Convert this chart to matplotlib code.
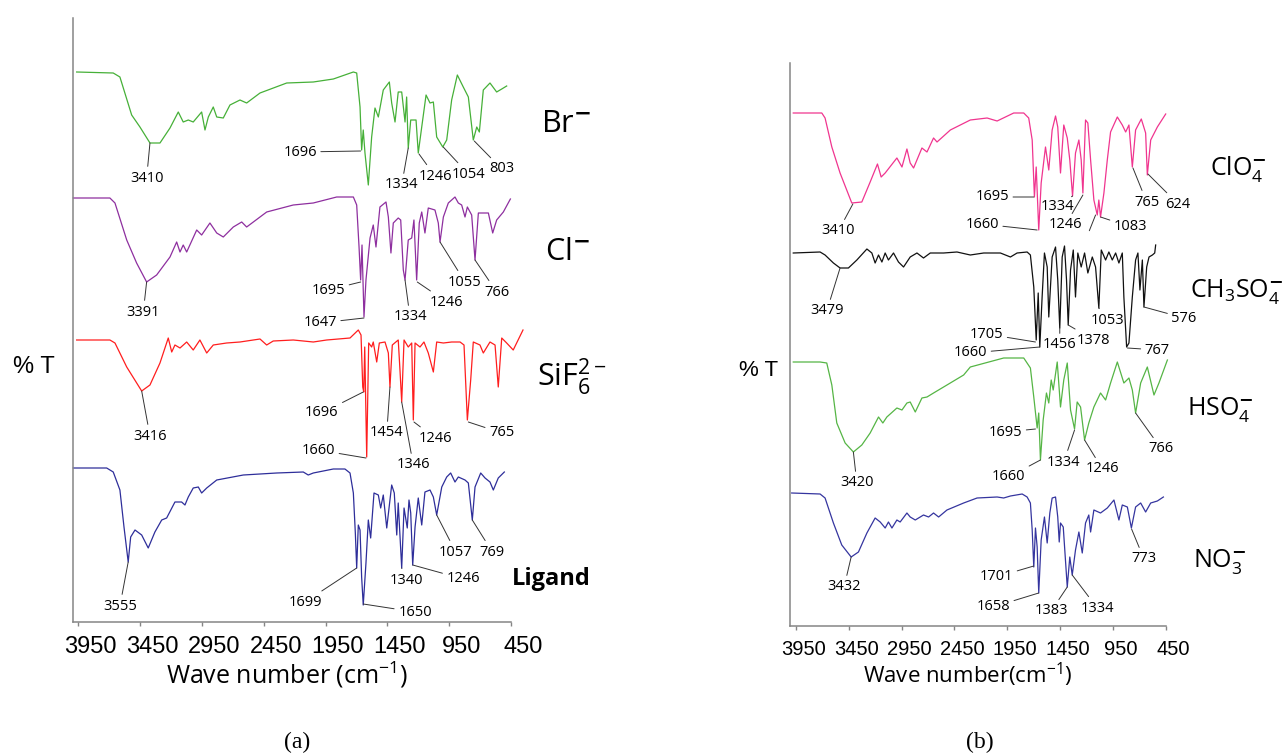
import matplotlib.pyplot as plt
from matplotlib.transforms import ScaledTranslation

plt.rcParams['font.family'] = ['Open Sans', 'DejaVu Sans']

W, H = 1287, 756

# ---------------- panel (a): wavenumber (cm-1) / stacked %T (arb. units)
br_wn = [3963, 3667, 3613, 3518, 3451, 3370, 3289, 3208, 3141, 3101, 3060, 3020, 2952, 2925, 2898,
         2858, 2830, 2777, 2723, 2642, 2588, 2480, 2264, 2049, 1887, 1725, 1698, 1671, 1658, 1645,
         1631, 1604, 1577, 1550, 1523, 1483, 1434, 1415, 1388, 1362, 1334, 1307, 1294, 1281, 1261,
         1218, 1200, 1172, 1137, 1105, 1078, 1051, 1002, 970, 930, 884, 836, 795, 755, 727,
         706, 674, 620, 566, 525, 485]
br_t = [551, 550, 546, 508, 496, 480, 480, 495, 511, 501, 503, 501, 511, 493, 506,
        516, 506, 505, 518, 523, 520, 530, 540, 541, 544, 551, 550, 516, 473, 493,
        470, 438, 486, 515, 506, 533, 541, 520, 501, 531, 531, 501, 526, 475, 503,
        503, 470, 496, 528, 520, 521, 486, 476, 483, 523, 548, 536, 526, 483, 496,
        491, 533, 540, 531, 534, 537]

cl_wn = [3990, 3694, 3653, 3558, 3478, 3397, 3316, 3208, 3154, 3127, 3101, 3073, 2992, 2952, 2885,
         2830, 2777, 2696, 2628, 2588, 2426, 2211, 2049, 1860, 1725, 1698, 1679, 1666, 1655, 1639,
         1623, 1590, 1564, 1542, 1510, 1461, 1442, 1421, 1402, 1362, 1342, 1321, 1307, 1281, 1253,
         1235, 1213, 1192, 1172, 1146, 1119, 1065, 1038, 1024, 997, 957, 903, 876, 849, 822,
         803, 768, 741, 714, 674, 633, 598, 566, 512, 455]
cl_t = [425, 425, 420, 383, 360, 341, 348, 366, 381, 371, 378, 371, 393, 388, 400,
        390, 386, 396, 401, 396, 411, 418, 420, 426, 426, 418, 376, 343, 378, 306,
        343, 385, 398, 376, 416, 421, 406, 370, 400, 405, 403, 353, 343, 383, 385,
        403, 343, 400, 411, 390, 415, 413, 400, 381, 406, 420, 426, 420, 418, 406,
        416, 408, 363, 410, 410, 410, 390, 403, 411, 424]

sif_wn = [3963, 3694, 3653, 3558, 3437, 3370, 3289, 3222, 3194, 3168, 3127, 3073, 3020, 2966, 2911,
          2858, 2750, 2642, 2480, 2426, 2373, 2211, 2049, 1941, 1752, 1685, 1663, 1649, 1641, 1633,
          1617, 1601, 1577, 1564, 1536, 1515, 1469, 1442, 1429, 1410, 1362, 1348, 1334, 1315, 1281,
          1253, 1240, 1226, 1186, 1154, 1119, 1078, 1051, 997, 930, 862, 830, 803, 776, 755,
          701, 674, 620, 579, 553, 525, 485, 432, 353]
sif_t = [283, 283, 280, 256, 232, 238, 260, 285, 271, 278, 275, 281, 273, 283, 270,
         278, 280, 281, 284, 278, 282, 283, 281, 283, 285, 293, 288, 236, 231, 276,
         166, 280, 276, 281, 261, 280, 281, 270, 236, 278, 283, 253, 221, 283, 276,
         280, 203, 280, 276, 281, 270, 251, 281, 280, 281, 281, 278, 203, 243, 281,
         278, 270, 281, 278, 236, 285, 280, 273, 293]

lig_wn = [3990, 3720, 3667, 3613, 3580, 3546, 3526, 3491, 3437, 3384, 3330, 3275, 3235, 3168, 3114,
          3087, 3060, 3020, 2979, 2952, 2911, 2830, 2615, 2345, 2130, 2090, 2049, 1887, 1793, 1752,
          1725, 1709, 1698, 1685, 1671, 1658, 1645, 1623, 1604, 1585, 1558, 1523, 1504, 1483, 1455,
          1415, 1394, 1374, 1362, 1334, 1315, 1289, 1275, 1261, 1245, 1226, 1200, 1172, 1146, 1105,
          1078, 1051, 1010, 970, 938, 903, 876, 822, 795, 763, 741, 695, 660, 620, 593,
          553, 504]
lig_t = [155, 155, 151, 133, 96, 61, 86, 93, 88, 75, 91, 103, 105, 121, 121,
         118, 126, 135, 136, 130, 135, 143, 148, 150, 151, 148, 150, 154, 154, 150,
         130, 90, 55, 98, 93, 46, 18, 60, 103, 85, 130, 128, 115, 128, 95,
         138, 130, 88, 120, 55, 115, 95, 123, 110, 58, 96, 125, 98, 131, 133,
         126, 108, 136, 146, 150, 141, 146, 143, 140, 103, 136, 150, 145, 141, 133,
         145, 151]

# ---------------- panel (b)
clo_wn = [3976, 3849, 3706, 3675, 3611, 3533, 3422, 3327, 3248, 3179, 3144, 3106, 2995, 2947, 2900,
          2869, 2837, 2758, 2710, 2648, 2615, 2489, 2300, 2141, 2046, 1889, 1794, 1747, 1714, 1693,
          1676, 1652, 1629, 1588, 1557, 1525, 1493, 1472, 1446, 1415, 1382, 1358, 1332, 1304, 1272,
          1250, 1234, 1209, 1187, 1161, 1130, 1098, 1083, 1067, 1035, 1003, 972, 908, 861, 829,
          798, 766, 735, 681, 640, 624, 592, 529, 450]
clo_t = [513, 513, 513, 508, 479, 453, 423, 424, 444, 462, 449, 453, 468, 459, 477,
         463, 458, 478, 474, 488, 484, 496, 506, 508, 505, 513, 513, 508, 486, 429,
         459, 396, 443, 479, 456, 496, 510, 499, 453, 501, 488, 466, 430, 473, 486,
         466, 433, 506, 503, 466, 426, 411, 426, 409, 433, 466, 494, 509, 501, 494,
         501, 459, 496, 507, 493, 451, 486, 499, 512]

ms_wn = [3976, 3722, 3675, 3596, 3533, 3454, 3374, 3279, 3232, 3201, 3169, 3137, 3106, 3075, 3027,
         2980, 2932, 2869, 2805, 2743, 2679, 2553, 2426, 2300, 2173, 2015, 1920, 1857, 1762, 1731,
         1699, 1676, 1657, 1642, 1620, 1598, 1572, 1557, 1525, 1493, 1472, 1453, 1430, 1408, 1389,
         1373, 1351, 1325, 1304, 1282, 1250, 1218, 1187, 1145, 1114, 1083, 1060, 1019, 988, 956,
         924, 893, 861, 846, 820, 798, 766, 735, 713, 694, 671, 656, 630, 608, 576,
         554, 545]
ms_t = [373, 374, 371, 363, 358, 358, 366, 377, 373, 363, 371, 364, 373, 366, 373,
        364, 359, 369, 373, 368, 373, 373, 374, 371, 373, 373, 369, 373, 374, 371,
        339, 286, 333, 279, 329, 373, 359, 309, 369, 379, 346, 298, 369, 380, 346,
        301, 356, 376, 329, 373, 359, 373, 353, 369, 359, 318, 376, 366, 374, 366,
        373, 363, 373, 329, 279, 283, 329, 366, 373, 336, 366, 319, 359, 369, 371,
        373, 381]

hs_wn = [3976, 3722, 3659, 3611, 3564, 3485, 3407, 3327, 3248, 3169, 3128, 3090, 2995, 2947, 2900,
         2869, 2821, 2758, 2710, 2648, 2521, 2363, 2300, 1984, 1794, 1731, 1699, 1667, 1652, 1636,
         1610, 1579, 1557, 1534, 1515, 1477, 1446, 1415, 1382, 1351, 1313, 1288, 1256, 1218, 1178,
         1130, 1067, 1019, 972, 908, 846, 798, 766, 735, 687, 624, 561, 514, 434]
hs_t = [264, 264, 263, 241, 203, 183, 174, 181, 193, 209, 203, 209, 218, 216, 223,
        224, 214, 228, 229, 233, 241, 251, 259, 268, 268, 258, 229, 198, 213, 166,
        206, 233, 223, 246, 236, 264, 219, 246, 263, 216, 197, 224, 219, 186, 203,
        219, 233, 226, 243, 264, 243, 248, 236, 213, 243, 259, 231, 243, 266]

no_wn = [3991, 3722, 3675, 3596, 3517, 3428, 3359, 3279, 3201, 3153, 3106, 3075, 3042, 2995, 2964,
         2900, 2869, 2821, 2743, 2695, 2648, 2600, 2521, 2363, 2236, 2046, 1984, 1920, 1809, 1762,
         1731, 1714, 1699, 1683, 1667, 1652, 1629, 1598, 1572, 1547, 1525, 1493, 1472, 1458, 1446,
         1420, 1382, 1358, 1335, 1304, 1272, 1240, 1209, 1178, 1161, 1130, 1067, 1003, 940, 893,
         861, 813, 775, 735, 687, 640, 592, 529, 472]
no_t = [133, 132, 128, 103, 81, 69, 74, 93, 108, 104, 98, 104, 98, 106, 104,
        113, 109, 106, 111, 109, 113, 109, 116, 123, 128, 129, 128, 130, 132, 129,
        123, 96, 59, 98, 79, 33, 86, 109, 83, 113, 128, 129, 109, 84, 103,
        99, 39, 69, 51, 76, 94, 73, 103, 111, 94, 116, 113, 118, 126, 106,
        121, 119, 98, 119, 123, 114, 123, 125, 129]

# peak labels and the curve points they mark
br_peaks = ['3410', '1696', '1334', '1246', '1054', '803']
br_pts = [(3370, 480), (1666, 472), (1281, 475), (1194, 469), (998, 476), (747, 482)]
cl_peaks = ['3391', '1695', '1647', '1334', '1246', '1055', '766']
cl_pts = [(3397, 341), (1666, 341), (1639, 305), (1307, 343), (1208, 341), (1024, 381), (741, 363)]
sif_peaks = ['3416', '1696', '1660', '1454', '1346', '1246', '765']
sif_pts = [(3437, 232), (1645, 231), (1623, 165), (1429, 236), (1334, 221), (1235, 201), (795, 201)]
lig_peaks = ['3555', '1699', '1650', '1340', '1246', '1057', '769']
lig_pts = [(3546, 61), (1698, 55), (1645, 19), (1334, 55), (1245, 58), (1051, 108), (763, 103)]

clo_peaks = ['3410', '1695', '1660', '1334', '1246', '', '1083', '765', '624']
clo_pts = [(3412, 422), (1699, 429), (1667, 396), (1332, 430), (1234, 431), (1114, 411), (1067, 409),
           (760, 458), (618, 452)]
ms_peaks = ['3479', '1705', '1660', '1456', '1378', '1053', '767', '576']
ms_pts = [(3533, 358), (1683, 284), (1642, 279), (1453, 298), (1373, 301), (1083, 318), (813, 278),
          (656, 319)]
hs_peaks = ['3420', '1695', '1660', '1334', '1246', '766']
hs_pts = [(3407, 174), (1683, 197), (1636, 166), (1313, 196), (1218, 186), (735, 213)]
no_peaks = ['3432', '1701', '1658', '1383', '1334', '773']
no_pts = [(3428, 69), (1699, 60), (1652, 33), (1382, 39), (1335, 51), (773, 97)]

# label placement (layout, data coords)
br_txt = [(3397, 445), (2157, 471), (1334, 438), (1065, 447), (795, 449), (525, 454)]
cl_txt = [(3424, 311), (1928, 333), (1995, 300), (1267, 306), (970, 321), (822, 341), (566, 331)]
sif_txt = [(3370, 187), (1981, 210), (2009, 173), (1455, 190), (1240, 158), (1065, 185), (525, 190)]
lig_txt = [(3613, 17), (2116, 21), (1226, 11), (1294, 43), (836, 44), (897, 71), (601, 71)]
clo_txt = [(3549, 395), (2094, 429), (2189, 402), (1477, 419), (1399, 401), (1178, 394), (782, 399),
           (630, 424), (333, 422)]
ms_txt = [(3659, 315), (2148, 292), (2300, 273), (1453, 281), (1130, 286), (1003, 306), (529, 276),
          (276, 308)]
hs_txt = [(3374, 143), (1968, 194), (1936, 149), (1415, 164), (1050, 157), (491, 177)]
no_txt = [(3495, 39), (2053, 49), (2084, 19), (1534, 15), (1098, 18), (656, 67)]

ticks = [3950, 3450, 2950, 2450, 1950, 1450, 950, 450]

fig = plt.figure(figsize=(W / 100, H / 100), dpi=100)
ax_a = fig.add_axes([73.3 / W, 1 - 622 / H, (511 - 73.3) / W, (622 - 18) / H])
ax_b = fig.add_axes([790 / W, 1 - 626 / H, (1165.7 - 790) / W, (626 - 63) / H])


def style_axes(ax, xlim, ylim, fs, shift_px, pad):
    ax.set_xlim(*xlim)
    ax.set_ylim(*ylim)
    for s in ['top', 'right']:
        ax.spines[s].set_visible(False)
    for s in ['left', 'bottom']:
        ax.spines[s].set_color('#858585')
        ax.spines[s].set_linewidth(1.1)
    ax.set_yticks([])
    ax.set_xticks(ticks)
    ax.tick_params(axis='x', direction='out', length=3, width=1, color='#858585',
                   labelsize=fs, pad=pad, labelfontfamily='Liberation Sans')
    off = ScaledTranslation(shift_px / 100, 0, fig.dpi_scale_trans)
    for lab in ax.get_xticklabels():
        lab.set_transform(lab.get_transform() + off)


def mark(ax, labels, pts, txt):
    for lab, p, q in zip(labels, pts, txt):
        ax.annotate(lab, xy=p, xytext=q, ha='center', va='center', fontsize=10.5,
                    annotation_clip=False,
                    arrowprops=dict(arrowstyle='-', color='#333333', lw=0.7,
                                    shrinkA=1, shrinkB=0))


style_axes(ax_a, (3990, 450), (1, 605), 17, 12, 7)
style_axes(ax_b, (4007, 450), (0, 563), 14.5, 8, 7)

ax_a.plot(br_wn, br_t, color='#46b038', lw=0.9, clip_on=False)
ax_a.plot(cl_wn, cl_t, color='#8e2f9f', lw=0.9, clip_on=False)
ax_a.plot(sif_wn, sif_t, color='#ff1e1e', lw=0.9, clip_on=False)
ax_a.plot(lig_wn, lig_t, color='#2e2e9a', lw=0.9, clip_on=False)
mark(ax_a, br_peaks, br_pts, br_txt)
mark(ax_a, cl_peaks, cl_pts, cl_txt)
mark(ax_a, sif_peaks, sif_pts, sif_txt)
mark(ax_a, lig_peaks, lig_pts, lig_txt)

ax_b.plot(clo_wn, clo_t, color='#f0358f', lw=0.9, clip_on=False)
ax_b.plot(ms_wn, ms_t, color='#111111', lw=0.9, clip_on=False)
ax_b.plot(hs_wn, hs_t, color='#55b545', lw=0.9, clip_on=False)
ax_b.plot(no_wn, no_t, color='#35359f', lw=0.9, clip_on=False)
mark(ax_b, clo_peaks, clo_pts, clo_txt)
mark(ax_b, ms_peaks, ms_pts, ms_txt)
mark(ax_b, hs_peaks, hs_pts, hs_txt)
mark(ax_b, no_peaks, no_pts, no_txt)


def ftext(x, y, s, **kw):
    fig.text(x / W, 1 - y / H, s, **kw)


# series names (left edge, baseline in pixels)
ftext(541, 132, r'$\mathregular{Br^{\mathbf{-}}}$', fontsize=22, va='baseline')
ftext(545, 260, r'$\mathregular{Cl^{\mathbf{-}}}$', fontsize=22, va='baseline')
ftext(537, 386, r'$\mathregular{SiF_6^{2-}}$', fontsize=22, va='baseline')
ftext(512, 585, 'Ligand', fontsize=17, fontweight='bold', va='baseline')
ftext(1210, 175, r'$\mathregular{ClO_4^{\mathbf{-}}}$', fontsize=18, va='baseline')
ftext(1190, 297, r'$\mathregular{CH_3SO_4^{\mathbf{-}}}$', fontsize=18, va='baseline')
ftext(1187, 415, r'$\mathregular{HSO_4^{\mathbf{-}}}$', fontsize=18, va='baseline')
ftext(1193, 567, r'$\mathregular{NO_3^{\mathbf{-}}}$', fontsize=18, va='baseline')

ftext(34, 367, '% T', fontsize=17, family='Liberation Sans', ha='center', va='center')
ftext(759, 370, '% T', fontsize=16, family='Liberation Sans', ha='center', va='center')
ftext(287, 675, r'Wave number (cm$^{\mathregular{-1}}$)', fontsize=18, ha='center', va='center')
ftext(968, 675, r'Wave number(cm$^{\mathregular{-1}}$)', fontsize=16, ha='center', va='center')
ftext(297, 742, '(a)', fontsize=17, family='Liberation Serif', ha='center', va='center')
ftext(980, 742, '(b)', fontsize=17, family='Liberation Serif', ha='center', va='center')

fig.savefig('out.png', dpi=100)
